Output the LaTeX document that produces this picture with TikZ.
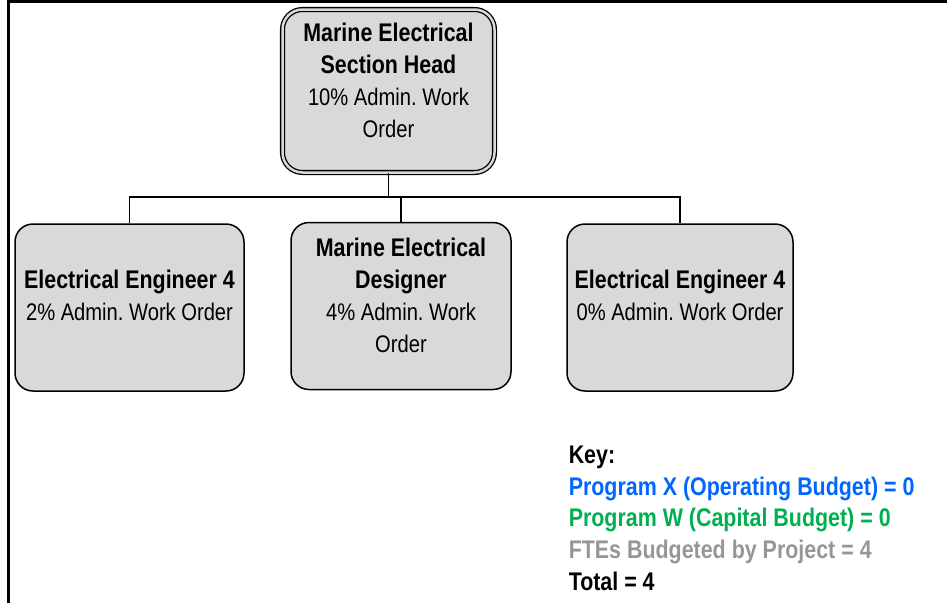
\documentclass[tikz,border=0pt]{standalone}
\usepackage{fontspec}
\setmainfont{Liberation Sans}[FakeStretch=0.84]
\usetikzlibrary{calc, positioning}
\frenchspacing
\definecolor{boxgray}{HTML}{D9D9D9}
\definecolor{keyblue}{HTML}{0066FF}
\definecolor{keygreen}{HTML}{00B050}
\definecolor{keygray}{HTML}{969696}
\tikzstyle{unit}=[draw, fill=boxgray, rounded corners=18pt, line width=1.5pt, minimum width=226pt, minimum height=167pt]
\tikzstyle{head}=[unit, double=boxgray, double distance=2.5pt, line width=1.3pt, rounded corners=20pt, minimum width=212pt, minimum height=163pt]
\tikzstyle{txt}=[align=center, inner sep=0pt, font=\fontsize{24}{32}\selectfont]
\newcommand{\ttl}[1]{{\bfseries\fontsize{25.5}{32}\selectfont #1}}

\begin{document}
\begin{tikzpicture}[x=1pt,y=1pt,line width=1.5pt]
      \useasboundingbox (0,0) rectangle (947,-603);
      % page frame
      \draw [line width=3pt] (8.5,-603) -- (8.5,-1.5) -- (947,-1.5);
      % boxes
      \node [head] (sect) at (388.5,-91) {};
      \node [unit, minimum width=220pt] (desg) at (401,-306) {};
      \node [unit, minimum width=229pt] (ee1) [left of=desg, node distance=271.5pt, yshift=-1.5pt] {};
      \node [unit] (ee2) [right of=desg, node distance=279pt, yshift=-1.5pt] {};
      \node [txt] (sectt) at ($(sect)+(0,11)$) {\ttl{Marine Electrical}\\ \ttl{Section Head}\\ 10\% Admin. Work\\ Order};
      \node [txt] (desgt) at ($(desg)+(0,11)$) {\ttl{Marine Electrical}\\ \ttl{Designer}\\ 4\% Admin. Work\\ Order};
      \node [txt] (ee1t) at ($(ee1)+(0,12)$) {\ttl{Electrical Engineer 4}\\ 2\% Admin. Work Order};
      \node [txt] (ee2t) at ($(ee2)+(0,12)$) {\ttl{Electrical Engineer 4}\\ 0\% Admin. Work Order};
      % connectors
      \coordinate (bus) at ($(sect.south)+(0,-24)$);
      \draw (sect.south) -- (bus);
      \draw (ee1.north) |- (bus) -| (ee2.north);
      \draw (desg.north) -- (desg.north |- bus);
      % key
      \node [align=left, anchor=north west, inner sep=0pt, font=\bfseries\fontsize{25.5}{31.7}\selectfont] (key) at (568,-445)
        {Key:\\ \textcolor{keyblue}{Program X (Operating Budget) = 0}\\ \textcolor{keygreen}{Program W (Capital Budget) = 0}\\ \textcolor{keygray}{FTEs Budgeted by Project = 4}\\ Total = 4};
  \end{tikzpicture}
\end{document}
